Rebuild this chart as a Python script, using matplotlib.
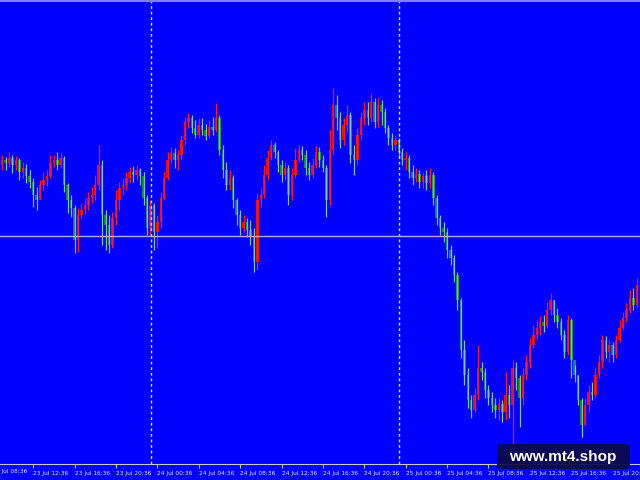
import numpy as np
import pandas as pd
import matplotlib
matplotlib.use("Agg")
import matplotlib.pyplot as plt
import matplotlib.dates as mdates
import matplotlib.transforms as mtransforms
from matplotlib.patches import FancyBboxPatch

# 20-minute bars, prices in chart points
first_open = 315
close = [320, 317, 322, 315, 320, 308, 312, 304, 298, 285,
         280, 295, 300, 304, 317, 320, 315, 322, 295, 280,
         272, 240, 265, 270, 275, 282, 285, 295, 315, 265,
         255, 235, 262, 280, 292, 295, 302, 308, 305, 310,
         304, 282, 252, 275, 248, 258, 282, 302, 320, 327,
         320, 325, 340, 358, 362, 352, 345, 355, 350, 344,
         353, 350, 362, 330, 310, 295, 302, 280, 265, 252,
         258, 250, 243, 218, 280, 285, 305, 322, 335, 328,
         315, 305, 312, 285, 305, 320, 330, 325, 312, 305,
         315, 328, 320, 312, 280, 330, 375, 362, 340, 355,
         365, 325, 320, 345, 362, 370, 362, 378, 358, 375,
         368, 352, 342, 335, 340, 328, 320, 322, 308, 302,
         306, 298, 304, 297, 305, 282, 262, 252, 248, 230,
         222, 205, 180, 130, 105, 80, 70, 85, 112, 108,
         90, 82, 75, 70, 76, 68, 85, 75, 112, 102,
         82, 105, 118, 135, 145, 152, 158, 154, 170, 180,
         165, 158, 145, 128, 160, 120, 105, 80, 55, 75,
         88, 85, 105, 118, 140, 128, 135, 125, 140, 152,
         162, 170, 182, 175, 195]
high = [325, 323, 328, 325, 324, 322, 318, 316, 310, 302,
        293, 300, 308, 310, 325, 325, 328, 327, 324, 297,
        285, 275, 272, 277, 282, 288, 293, 305, 335, 320,
        270, 265, 268, 290, 298, 302, 308, 313, 314, 315,
        312, 308, 285, 280, 277, 265, 288, 308, 328, 333,
        332, 330, 345, 363, 367, 365, 360, 362, 362, 356,
        360, 363, 377, 365, 335, 318, 310, 305, 282, 270,
        265, 262, 260, 252, 287, 292, 315, 330, 340, 338,
        330, 320, 318, 315, 312, 332, 335, 334, 330, 318,
        322, 334, 333, 325, 315, 350, 392, 385, 368, 362,
        375, 368, 335, 352, 368, 378, 378, 387, 382, 382,
        380, 372, 355, 347, 345, 342, 332, 328, 325, 315,
        312, 310, 308, 310, 312, 308, 285, 265, 258, 252,
        235, 225, 208, 182, 140, 112, 85, 92, 135, 118,
        112, 95, 88, 82, 82, 80, 108, 95, 120, 118,
        105, 112, 125, 142, 155, 160, 164, 165, 178, 187,
        180, 172, 162, 150, 165, 162, 115, 105, 82, 82,
        95, 98, 112, 125, 145, 144, 140, 138, 145, 160,
        168, 177, 190, 192, 202]
low = [310, 310, 313, 307, 310, 300, 302, 297, 292, 273,
       270, 282, 290, 294, 302, 313, 310, 312, 288, 267,
       263, 227, 228, 262, 266, 270, 277, 280, 290, 235,
       230, 227, 232, 255, 270, 285, 290, 298, 298, 300,
       295, 275, 245, 245, 230, 232, 252, 280, 300, 317,
       312, 310, 320, 335, 352, 347, 342, 342, 345, 340,
       342, 345, 348, 325, 302, 290, 290, 272, 255, 245,
       248, 243, 235, 208, 210, 273, 282, 300, 320, 322,
       308, 298, 300, 275, 280, 302, 318, 320, 305, 300,
       302, 312, 313, 308, 263, 275, 325, 350, 332, 335,
       348, 317, 305, 315, 340, 355, 355, 358, 352, 353,
       355, 347, 335, 330, 330, 322, 315, 310, 302, 295,
       298, 292, 292, 290, 292, 275, 255, 245, 238, 222,
       215, 198, 170, 122, 95, 72, 62, 68, 80, 100,
       82, 75, 68, 62, 60, 58, 60, 62, 25, 90,
       53, 75, 100, 112, 132, 140, 145, 148, 152, 165,
       158, 152, 140, 122, 125, 102, 98, 75, 43, 55,
       68, 80, 82, 102, 112, 122, 118, 118, 122, 138,
       150, 158, 167, 170, 172]

bar_times = pd.date_range("2024-07-23 09:36", periods=len(close), freq="20min")
tick_times = pd.date_range("2024-07-23 08:36", "2024-07-25 20:36", freq="4h")
tick_labels = [t.strftime("%d %b %H:%M") for t in tick_times]
separators = pd.to_datetime(["2024-07-24 00:00", "2024-07-25 00:00"])
hline_level = 244

close = np.array(close)
high = np.array(high)
low = np.array(low)
opens = np.r_[first_open, close[:-1]]
up = close >= opens

bg = "#0000ff"
fig = plt.figure(figsize=(6.4, 4.8), dpi=100, facecolor=bg)
ax = fig.add_axes([0, 16 / 480, 1, 463 / 480], facecolor=bg)

x = mdates.date2num(bar_times)
bw = 0.72 / 72  # body width in days

ax.vlines(x[up], low[up], high[up], color="#ff1a1a", lw=0.9)
ax.vlines(x[~up], low[~up], high[~up], color="#7cc4a4", lw=0.9)
body = np.maximum(np.abs(close - opens), 1.5)
ax.bar(x[up], body[up], bottom=np.minimum(opens, close)[up], width=bw,
       color="#f00a14", linewidth=0)
ax.bar(x[~up], body[~up], bottom=np.minimum(opens, close)[~up], width=bw,
       color="#0f8a45", linewidth=0)

for s in separators:
    ax.axvline(mdates.date2num(s), color="#e6e6ff", lw=1, ls=(0, (2, 2)))
ax.axhline(hline_level, color="#b0b0e0", lw=1)

ax.set_xticks(mdates.date2num(tick_times))
ax.set_xticklabels(tick_labels)
ax.tick_params(axis="x", direction="out", length=3, color="#c8c8c8",
               labelcolor="#e8e8e8", labelsize=4.2, pad=2)
for lbl in ax.get_xticklabels():
    lbl.set_ha("left")
ax.set_yticks([])

x0 = mdates.date2num(pd.Timestamp("2024-07-23 09:24"))
ax.set_xlim(x0, x0 + 61.84 / 24)
ax.set_ylim(16, 479)

# first label sits left of the view, only its tail shows
trans = mtransforms.blended_transform_factory(ax.transData, ax.transAxes)
ax.text(mdates.date2num(tick_times[0]), -8 / 463, tick_labels[0],
        transform=trans, ha="left", va="center", fontsize=4.2,
        color="#e8e8e8", clip_on=False)

for side in ["left", "right"]:
    ax.spines[side].set_visible(False)
ax.spines["bottom"].set_color("#c8c8c8")
ax.spines["top"].set_color("#8080ff")
ax.spines["top"].set_linewidth(1.5)

# watermark
box = FancyBboxPatch((497 / 640, 11 / 480), 133 / 640, 25 / 480,
                     boxstyle="round,pad=0,rounding_size=0.008",
                     transform=fig.transFigure, facecolor="#0a0a48",
                     edgecolor="none", alpha=0.92, zorder=10)
fig.patches.append(box)
fig.text(563 / 640, 23 / 480, "www.mt4.shop", color="white", fontsize=11,
         fontweight="bold", ha="center", va="center", zorder=11,
         family=["Liberation Sans", "DejaVu Sans"])

fig.savefig("out.png", dpi=100, facecolor=bg)
